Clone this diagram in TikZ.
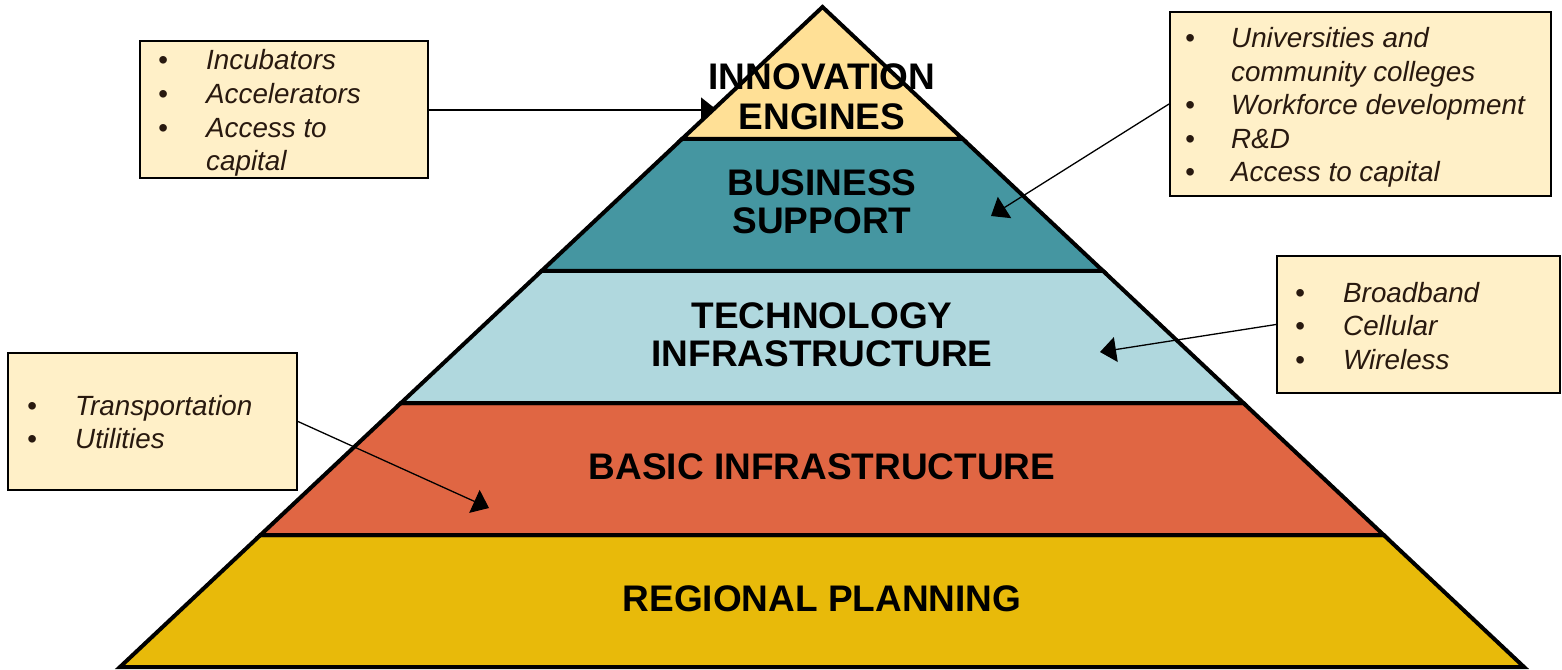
\documentclass[tikz,border=0pt]{standalone}
\usepackage{fontspec}
\setmainfont{Liberation Sans}
\usetikzlibrary{arrows.meta,calc}
\definecolor{cTop}{RGB}{255,224,150}
\definecolor{cTeal}{RGB}{69,150,161}
\definecolor{cLight}{RGB}{176,216,222}
\definecolor{cRed}{RGB}{224,102,67}
\definecolor{cGold}{RGB}{232,186,10}
\definecolor{boxfill}{RGB}{255,240,200}
\definecolor{boxink}{RGB}{40,25,15}
\begin{document}
\begin{tikzpicture}[x=1pt,y=-1pt,
  layer/.style={draw=black, line width=4pt, line join=miter},
  lbl/.style={font=\fontsize{37}{38}\selectfont\bfseries, align=center, text=black, inner sep=0pt},
  infobox/.style={draw=black, line width=2pt, fill=boxfill, inner sep=0pt},
  conn/.style={draw=black, line width=1.3pt, -{Triangle[length=16pt,width=25pt]}},
  boxtext/.style={anchor=base west, inner sep=0pt, text=boxink, font=\fontsize{27.8}{33.5}\selectfont\itshape}
]
\useasboundingbox (0,0) rectangle (1562,669);

% pyramid geometry
\coordinate (A) at (822.5,7);
\coordinate (BL) at (120,667);
\coordinate (BR) at (1524,667);
\coordinate (L1) at ($(A)!0.2!(BL)$);
\coordinate (R1) at ($(A)!0.2!(BR)$);
\coordinate (L2) at ($(A)!0.4!(BL)$);
\coordinate (R2) at ($(A)!0.4!(BR)$);
\coordinate (L3) at ($(A)!0.6!(BL)$);
\coordinate (R3) at ($(A)!0.6!(BR)$);
\coordinate (L4) at ($(A)!0.8!(BL)$);
\coordinate (R4) at ($(A)!0.8!(BR)$);

% boxes
\node[infobox, minimum width=288pt, minimum height=137pt] (b1) at (284,109.5) {};
\node[infobox, minimum width=381pt, minimum height=184pt] (b2) at (1360.5,104) {};
\node[infobox, minimum width=283pt, minimum height=137pt] (b3) at (1418.5,324.5) {};
\node[infobox, minimum width=289pt, minimum height=137pt] (b4) at (152.5,421.5) {};

% arrow to the apex (behind the top triangle)
\coordinate (e1) at (717,110);
\draw[conn] (b1.east |- e1) -- (e1);

% layers
\filldraw[layer, fill=cGold] (L4) -- (BL) -- (BR) -- (R4) -- cycle;
\filldraw[layer, fill=cRed] (L3) -- (L4) -- (R4) -- (R3) -- cycle;
\filldraw[layer, fill=cLight] (L2) -- (L3) -- (R3) -- (R2) -- cycle;
\filldraw[layer, fill=cTeal] (L1) -- (L2) -- (R2) -- (R1) -- cycle;
\filldraw[layer, fill=cTop] (A) -- (L1) -- (R1) -- cycle;

% other connectors
\coordinate (e2) at (991,216);
\coordinate (e3) at (1100,352);
\coordinate (e4) at (489,508);
\draw[conn] (b2.west) -- (e2);
\draw[conn] (b3.west) -- (e3);
\draw[conn] (b4.east) -- (e4);

% layer labels
\node[lbl, font=\fontsize{37}{40}\selectfont\bfseries] (n1) at (822,97) {INNOVATION\\ENGINES};
\node[lbl] (n2) at (822,201.5) {BUSINESS\\SUPPORT};
\node[lbl] (n3) at (822,334.5) {TECHNOLOGY\\INFRASTRUCTURE};
\node[lbl] (n4) at (822,467) {BASIC INFRASTRUCTURE};
\node[lbl] (n5) at (822,599) {REGIONAL PLANNING};

% box texts
\node[boxtext] (t1) at (158,70) {\begin{tabular}[t]{@{}p{48pt}@{}l@{}}\textbullet & Incubators\\ \textbullet & Accelerators\\ \textbullet & Access to\\ & capital\end{tabular}};
\node[boxtext] (t2) at (1185,48) {\begin{tabular}[t]{@{}p{46pt}@{}l@{}}\textbullet & Universities and\\ & community colleges\\ \textbullet & Workforce development\\ \textbullet & R\&D\\ \textbullet & Access to capital\end{tabular}};
\node[boxtext] (t3) at (1295,302) {\begin{tabular}[t]{@{}p{48pt}@{}l@{}}\textbullet & Broadband\\ \textbullet & Cellular\\ \textbullet & Wireless\end{tabular}};
\node[boxtext] (t4) at (27,415) {\begin{tabular}[t]{@{}p{48pt}@{}l@{}}\textbullet & Transportation\\ \textbullet & Utilities\end{tabular}};
\end{tikzpicture}
\end{document}
